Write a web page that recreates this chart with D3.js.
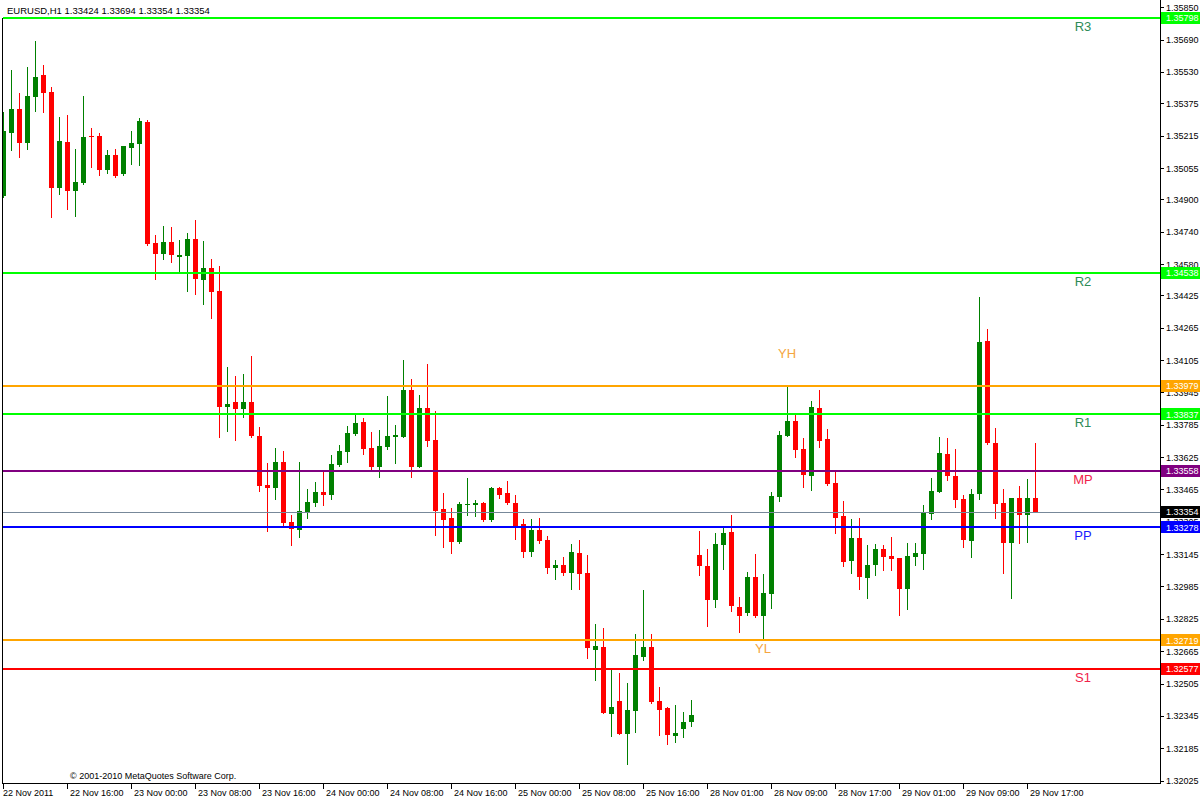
<!DOCTYPE html>
<html>
<head>
<meta charset="utf-8">
<script src="https://cdn.jsdelivr.net/npm/d3@7"></script>
<style>
html,body{margin:0;padding:0;background:#fff;}
svg{display:block;}
text{font-family:"Liberation Sans",Arial,sans-serif;}
</style>
</head>
<body>
<svg id="chart" width="1200" height="800"></svg>
<script>
// ---------- data ----------
const symbol = "EURUSD,H1";
const open = [1.34916,1.35228,1.35347,1.35178,1.35406,1.35515,1.35431,1.34956,1.35183,1.34941,
1.34981,1.35213,1.35213,1.35045,1.35119,1.35025,1.35154,1.35173,1.35282,1.34684,
1.34629,1.34689,1.34615,1.34620,1.34704,1.34501,1.34560,1.34446,1.33873,1.33897,
1.33863,1.33897,1.33729,1.33487,1.33472,1.33601,1.33304,1.33264,1.33353,1.33398,
1.33452,1.33438,1.33586,1.33650,1.33739,1.33799,1.33670,1.33576,1.33675,1.33724,
1.33724,1.33957,1.33576,1.33868,1.33710,1.33368,1.33324,1.33205,1.33388,1.33388,
1.33398,1.33314,1.33472,1.33447,1.33398,1.33294,1.33156,1.33264,1.33215,1.33077,
1.33091,1.33052,1.33151,1.33052,1.32671,1.32686,1.32354,1.32419,1.32256,1.32369,
1.32636,1.32686,1.32419,1.32384,1.32246,1.32280,1.32315,1.33141,1.33086,1.32918,
1.33190,1.33255,1.32884,1.32854,1.33032,1.32839,1.32948,1.33428,1.33729,1.33804,
1.33665,1.33531,1.33868,1.33714,1.33497,1.33334,1.33111,1.33225,1.33027,1.33091,
1.33170,1.33136,1.33126,1.32973,1.33131,1.33146,1.33344,1.33452,1.33640,1.33531,
1.33418,1.33210,1.33442,1.34199,1.33695,1.33398,1.33200,1.33423,1.33339,1.33424];
const high = [1.35332,1.35539,1.35426,1.35554,1.35683,1.35564,1.35455,1.35307,1.35317,1.35149,
1.35411,1.35253,1.35228,1.35144,1.35149,1.35164,1.35238,1.35302,1.35292,1.34723,
1.34768,1.34763,1.34699,1.34733,1.34798,1.34694,1.34605,1.34570,1.34071,1.34026,
1.34036,1.34125,1.33774,1.33596,1.33670,1.33655,1.33339,1.33601,1.33467,1.33502,
1.33551,1.33635,1.33685,1.33779,1.33833,1.33818,1.33749,1.33759,1.33927,1.33784,
1.34105,1.34011,1.33932,1.34085,1.33853,1.33447,1.33373,1.33403,1.33522,1.33413,
1.33403,1.33477,1.33477,1.33507,1.33438,1.33319,1.33319,1.33324,1.33235,1.33116,
1.33131,1.33195,1.33215,1.33141,1.32800,1.32780,1.32572,1.32557,1.32508,1.32750,
1.32968,1.32750,1.32488,1.32389,1.32399,1.32364,1.32424,1.33259,1.33170,1.33250,
1.33279,1.33339,1.32933,1.33057,1.33146,1.33047,1.33452,1.33754,1.33979,1.33833,
1.33719,1.33902,1.33957,1.33764,1.33551,1.33408,1.33319,1.33324,1.33190,1.33195,
1.33190,1.33230,1.33126,1.33200,1.33200,1.33388,1.33522,1.33724,1.33719,1.33665,
1.33438,1.33467,1.34417,1.34259,1.33769,1.33467,1.33423,1.33482,1.33517,1.33694];
const low = [1.34911,1.35144,1.35109,1.35149,1.35337,1.35332,1.34812,1.34926,1.34852,1.34817,
1.34976,1.35060,1.35020,1.35030,1.35010,1.35020,1.35075,1.35070,1.34674,1.34506,
1.34605,1.34590,1.34545,1.34446,1.34432,1.34382,1.34313,1.33724,1.33754,1.33710,
1.33823,1.33724,1.33457,1.33259,1.33418,1.33289,1.33190,1.33230,1.33324,1.33383,
1.33388,1.33418,1.33581,1.33601,1.33734,1.33640,1.33561,1.33527,1.33665,1.33596,
1.33724,1.33527,1.33576,1.33680,1.33240,1.33180,1.33151,1.33200,1.33339,1.33334,
1.33309,1.33309,1.33423,1.33393,1.33220,1.33131,1.33136,1.33200,1.33052,1.33022,
1.33042,1.32973,1.32973,1.32631,1.32523,1.32359,1.32246,1.32256,1.32107,1.32265,
1.32622,1.32409,1.32251,1.32206,1.32216,1.32241,1.32295,1.33042,1.32790,1.32884,
1.33072,1.32864,1.32760,1.32844,1.32834,1.32719,1.32879,1.33408,1.33729,1.33625,
1.33477,1.33462,1.33675,1.33487,1.33250,1.33086,1.33052,1.32973,1.32928,1.33042,
1.33067,1.33067,1.32844,1.32874,1.33091,1.33072,1.33319,1.33452,1.33512,1.33378,
1.33180,1.33131,1.33418,1.33690,1.33324,1.33052,1.32928,1.33200,1.33205,1.33354];
const close = [1.35238,1.35347,1.35178,1.35411,1.35505,1.35426,1.34956,1.35188,1.34941,1.34986,
1.35208,1.35208,1.35045,1.35119,1.35015,1.35164,1.35178,1.35287,1.34679,1.34629,
1.34689,1.34624,1.34624,1.34704,1.34506,1.34560,1.34441,1.33873,1.33888,1.33863,
1.33897,1.33729,1.33482,1.33472,1.33601,1.33299,1.33269,1.33358,1.33403,1.33452,
1.33438,1.33591,1.33655,1.33744,1.33794,1.33665,1.33576,1.33680,1.33729,1.33734,
1.33957,1.33576,1.33868,1.33705,1.33358,1.33314,1.33205,1.33393,1.33393,1.33398,
1.33314,1.33472,1.33438,1.33398,1.33284,1.33156,1.33264,1.33210,1.33077,1.33091,
1.33052,1.33156,1.33047,1.32681,1.32691,1.32359,1.32389,1.32256,1.32374,1.32646,
1.32686,1.32414,1.32374,1.32251,1.32260,1.32315,1.32350,1.33086,1.32918,1.33195,
1.33250,1.32889,1.32839,1.33032,1.32839,1.32953,1.33433,1.33734,1.33804,1.33660,
1.33536,1.33873,1.33705,1.33492,1.33324,1.33106,1.33225,1.33032,1.33091,1.33170,
1.33131,1.33121,1.32973,1.33136,1.33151,1.33349,1.33457,1.33645,1.33531,1.33413,
1.33215,1.33442,1.34194,1.33695,1.33393,1.33200,1.33423,1.33339,1.33423,1.33354];

const timeLabels = ["22 Nov 2011","22 Nov 16:00","23 Nov 00:00","23 Nov 08:00","23 Nov 16:00",
"24 Nov 00:00","24 Nov 08:00","24 Nov 16:00","25 Nov 00:00","25 Nov 08:00","25 Nov 16:00",
"28 Nov 01:00","28 Nov 09:00","28 Nov 17:00","29 Nov 01:00","29 Nov 09:00","29 Nov 17:00"];
const timeLabelBars = [0,8,16,24,32,40,48,56,64,72,80,88,96,104,112,120,128];

const priceTicks = [1.35850,1.35690,1.35530,1.35375,1.35215,1.35055,1.34900,1.34740,1.34580,
1.34425,1.34265,1.34105,1.33945,1.33785,1.33625,1.33465,1.33305,1.33145,1.32985,1.32825,
1.32665,1.32505,1.32345,1.32185,1.32025];

const levelNames  = ["R3","R2","YH","R1","MP","PP","YL","S1"];
const levelValues = [1.35798,1.34538,1.33979,1.33837,1.33558,1.33278,1.32719,1.32577];
const levelColors = ["#00ff00","#00ff00","#ffa500","#00ff00","#800080","#0000ff","#ffa500","#ff0000"];
const levelTextColors = ["#2e8b57","#2e8b57","#f5a540","#2e8b57","#f0224a","#1a1aff","#f5a540","#f0224a"];
const levelLabelBars = [135,135,98,135,135,135,95,135];
const levelLabelAbove = [false,false,true,false,false,false,false,false];

const lastPrice = 1.33354;
const copyright = "\u00A9 2001-2010 MetaQuotes Software Corp.";

// ---------- layout ----------
const svg = d3.select("#chart");
const plotLeft = 3, plotRight = 1160, plotTop = 0, plotBottom = 783;

const x = d3.scaleLinear().domain([0, 129]).range([3, 3 + 8 * 129]);
const y = d3.scaleLinear().domain([1.32013, 1.35886]).range([plotBottom, plotTop]);

svg.append("rect").attr("width",1200).attr("height",800).attr("fill","#fff");

svg.append("defs").append("clipPath").attr("id","plotClip")
  .append("rect").attr("x",plotLeft).attr("y",plotTop)
  .attr("width",plotRight-plotLeft).attr("height",plotBottom-plotTop);

const plot = svg.append("g").attr("clip-path","url(#plotClip)");

const bars = d3.range(open.length).map(i => ({i, o:open[i], h:high[i], l:low[i], c:close[i]}));
const bull = "#008000", bear = "#ff0000";

// wicks
plot.append("g").selectAll("line").data(bars).join("line")
  .attr("x1", d => Math.round(x(d.i)) + 0.5)
  .attr("x2", d => Math.round(x(d.i)) + 0.5)
  .attr("y1", d => Math.round(y(d.h)))
  .attr("y2", d => Math.round(y(d.l)) + 1)
  .attr("stroke", d => d.c >= d.o ? bull : bear)
  .attr("stroke-width", 1);

// bodies
plot.append("g").selectAll("rect").data(bars).join("rect")
  .attr("x", d => Math.round(x(d.i)) - 2)
  .attr("width", 5)
  .attr("y", d => Math.round(y(Math.max(d.o, d.c))))
  .attr("height", d => Math.max(1, Math.round(y(Math.min(d.o, d.c))) - Math.round(y(Math.max(d.o, d.c)))))
  .attr("fill", d => d.c >= d.o ? bull : bear);

// level lines
const levels = levelNames.map((n, k) => ({n, v:levelValues[k], col:levelColors[k], tcol:levelTextColors[k], bar:levelLabelBars[k], above:levelLabelAbove[k]}));

plot.append("line")
  .attr("x1", plotLeft).attr("x2", plotRight)
  .attr("y1", Math.round(y(lastPrice)) + 0.5).attr("y2", Math.round(y(lastPrice)) + 0.5)
  .attr("stroke", "#778899").attr("stroke-width", 1);

plot.append("g").selectAll("line").data(levels).join("line")
  .attr("x1", plotLeft).attr("x2", plotRight)
  .attr("y1", d => Math.round(y(d.v))).attr("y2", d => Math.round(y(d.v)))
  .attr("stroke", d => d.col).attr("stroke-width", 2);

// level labels
plot.append("g").selectAll("text").data(levels).join("text")
  .attr("x", d => x(d.bar))
  .attr("y", d => d.above ? y(d.v) - 28 : y(d.v) + 13)
  .attr("text-anchor", "middle")
  .attr("font-size", 13)
  .attr("fill", d => d.tcol)
  .text(d => d.n);

// copyright
svg.append("text").attr("x", 70).attr("y", 779).attr("font-size", 9).attr("fill", "#000").text(copyright);

// frame
svg.append("line").attr("x1", 2.5).attr("x2", 2.5).attr("y1", 18).attr("y2", plotBottom + 1).attr("stroke", "#000");
svg.append("line").attr("x1", 2).attr("x2", plotRight + 1).attr("y1", plotBottom + 0.5).attr("y2", plotBottom + 0.5).attr("stroke", "#000");
svg.append("line").attr("x1", plotRight + 0.5).attr("x2", plotRight + 0.5).attr("y1", 0).attr("y2", plotBottom + 1).attr("stroke", "#000");

// title
svg.append("text").attr("x", 7).attr("y", 14).attr("font-size", 9.5).attr("fill", "#000")
  .text(symbol + "  " + [open[129], high[129], low[129], close[129]].map(v => v.toFixed(5)).join(" "));

// price axis ticks
const pa = svg.append("g");
pa.selectAll("line").data(priceTicks).join("line")
  .attr("x1", plotRight + 1).attr("x2", plotRight + 4)
  .attr("y1", d => Math.round(y(d)) + 0.5).attr("y2", d => Math.round(y(d)) + 0.5)
  .attr("stroke", "#000");
pa.selectAll("text").data(priceTicks).join("text")
  .attr("x", plotRight + 6).attr("y", d => y(d) + 3.5)
  .attr("font-size", 9).attr("fill", "#000")
  .text(d => d.toFixed(5));

// price boxes
const boxes = levels.map(d => ({v:d.v, col:d.col})).concat([{v:lastPrice, col:"#000"}]);
const bx = svg.append("g");
bx.selectAll("rect").data(boxes).join("rect")
  .attr("x", plotRight + 1).attr("width", 39)
  .attr("y", d => Math.round(y(d.v)) - 6).attr("height", 12)
  .attr("fill", d => d.col);
bx.selectAll("text").data(boxes).join("text")
  .attr("x", plotRight + 6).attr("y", d => y(d.v) + 3.5)
  .attr("font-size", 9).attr("fill", "#fff")
  .text(d => d.v.toFixed(5));

// time axis
const ta = svg.append("g");
ta.selectAll("line").data(timeLabelBars).join("line")
  .attr("x1", d => Math.round(x(d)) + 0.5).attr("x2", d => Math.round(x(d)) + 0.5)
  .attr("y1", plotBottom + 1).attr("y2", plotBottom + 6)
  .attr("stroke", "#000");
ta.selectAll("text").data(timeLabels).join("text")
  .attr("x", (d, k) => x(timeLabelBars[k]) + (k === 0 ? 0 : 3))
  .attr("y", 796)
  .attr("font-size", 9).attr("fill", "#000")
  .text(d => d);
</script>
</body>
</html>
